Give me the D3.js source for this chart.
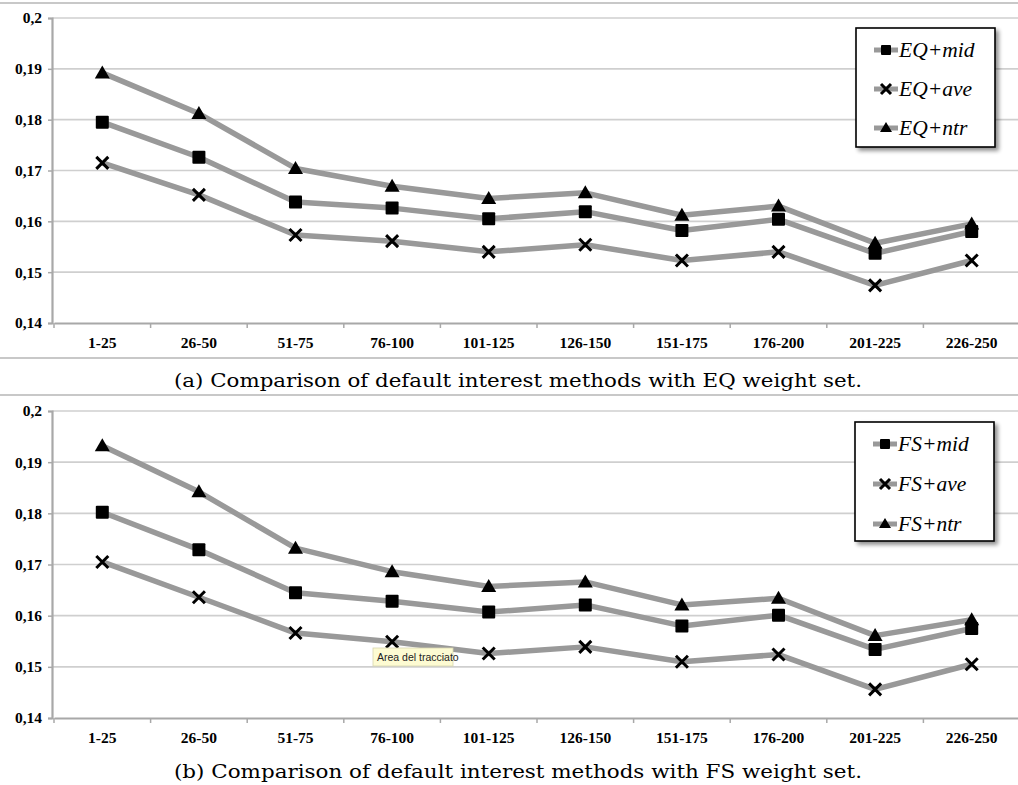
<!DOCTYPE html>
<html><head><meta charset="utf-8">
<script src="https://cdn.jsdelivr.net/npm/d3@7"></script>
<style>
body{margin:0;background:#fff}svg{display:block}
.tk{font-family:"Liberation Serif","Times New Roman",serif;font-weight:bold;font-size:15.5px;fill:#000}
.lg{font-family:"Liberation Serif","Times New Roman",serif;font-style:italic;font-size:21.5px;fill:#000}
.cap{font-family:"DejaVu Serif",serif;font-size:18.5px;fill:#000}
.tip{font-family:"Liberation Sans",Arial,sans-serif;font-size:10.5px;fill:#222}
</style>
</head><body>
<svg id="c" width="1018" height="785"></svg>
<script>
const categories = ["1-25","26-50","51-75","76-100","101-125","126-150","151-175","176-200","201-225","226-250"];
const yTicks = [0.14,0.15,0.16,0.17,0.18,0.19,0.2];
const yTickLabels = ["0,14","0,15","0,16","0,17","0,18","0,19","0,2"];

const eqMid = [0.1795,0.1726,0.1638,0.1626,0.1605,0.1619,0.1582,0.1604,0.1537,0.1580];
const eqAve = [0.1715,0.1652,0.1573,0.1561,0.1540,0.1554,0.1523,0.1540,0.1474,0.1523];
const eqNtr = [0.1892,0.1812,0.1704,0.1669,0.1645,0.1656,0.1612,0.1630,0.1557,0.1595];

const fsMid = [0.1802,0.1729,0.1645,0.1628,0.1607,0.1621,0.1580,0.1601,0.1534,0.1575];
const fsAve = [0.1705,0.1636,0.1566,0.1549,0.1526,0.1539,0.1510,0.1524,0.1456,0.1505];
const fsNtr = [0.1932,0.1842,0.1732,0.1686,0.1657,0.1666,0.1621,0.1634,0.1561,0.1592];

const legendEQ = ["EQ+mid","EQ+ave","EQ+ntr"];
const legendFS = ["FS+mid","FS+ave","FS+ntr"];
const captionA = "(a) Comparison of default interest methods with EQ weight set.";
const captionB = "(b) Comparison of default interest methods with FS weight set.";
const tooltipText = "Area del tracciato";

const svg = d3.select("#c");
const defs = svg.append("defs");
const f = defs.append("filter").attr("id","sh").attr("x","-20%").attr("y","-20%").attr("width","150%").attr("height","150%");
f.append("feGaussianBlur").attr("in","SourceAlpha").attr("stdDeviation",2);
f.append("feOffset").attr("dx",3).attr("dy",3).attr("result","o");
f.append("feComponentTransfer").append("feFuncA").attr("type","linear").attr("slope",0.45);
const m = f.append("feMerge"); m.append("feMergeNode"); m.append("feMergeNode").attr("in","SourceGraphic");

function panel(cfg){
  const g = svg.append("g");
  const x = d3.scaleBand().domain(categories).range([54,1020]).paddingInner(0).paddingOuter(0);
  const y = d3.scaleLinear().domain([0.14,0.2]).range([cfg.y0, cfg.y1]);

  g.append("line").attr("x1",0).attr("x2",1018).attr("y1",cfg.topLine).attr("y2",cfg.topLine).attr("stroke","#c8c8c8").attr("stroke-width",2);
  if(cfg.botLine>0) g.append("line").attr("x1",0).attr("x2",1018).attr("y1",cfg.botLine).attr("y2",cfg.botLine).attr("stroke","#c8c8c8").attr("stroke-width",2);

  g.append("g").selectAll("line").data(yTicks.filter(t=>t>0.14)).join("line")
    .attr("x1",52).attr("x2",1018).attr("y1",d=>y(d)).attr("y2",d=>y(d))
    .attr("stroke","#cfcfcf").attr("stroke-width",1.6);

  const ya = g.append("g").attr("transform","translate(52,0)")
    .call(d3.axisLeft(y).tickValues(yTicks).tickSize(4).tickFormat((d,i)=>yTickLabels[i]));
  ya.attr("font-family",null).attr("font-size",null);
  ya.select(".domain").attr("stroke","#a8a8a8").attr("stroke-width",2.2);
  ya.selectAll(".tick line").attr("stroke","#a8a8a8").attr("stroke-width",1.5);
  ya.selectAll("text").attr("class","tk").attr("fill",null).attr("x",-10);

  const xa = g.append("g").attr("transform",`translate(0,${cfg.y0})`)
    .call(d3.axisBottom(x).tickSize(0));
  xa.attr("font-family",null).attr("font-size",null);
  xa.select(".domain").attr("stroke","#a8a8a8").attr("stroke-width",2.2);
  xa.selectAll("text").attr("class","tk").attr("fill",null).attr("dy","0").attr("y",cfg.labelDy+11);
  const bounds = categories.map(c=>x(c)).concat([1020]);
  g.append("g").selectAll("line").data(bounds).join("line")
    .attr("x1",d=>d).attr("x2",d=>d).attr("y1",cfg.y0).attr("y2",cfg.y0+5)
    .attr("stroke","#a8a8a8").attr("stroke-width",1.5);

  const cx = c => x(c) + x.bandwidth()/2;
  const line = d3.line().x((d,i)=>cx(categories[i])).y(d=>y(d));
  const series = [
    {vals:cfg.mid, sym:"sq"},
    {vals:cfg.ave, sym:"x"},
    {vals:cfg.ntr, sym:"tri"}
  ];
  series.forEach(s=>{
    g.append("path").datum(s.vals).attr("d",line).attr("fill","none").attr("stroke","#999").attr("stroke-width",5.5).attr("stroke-linejoin","round");
  });
  function marker(sel, sym, size){
    if(sym==="sq"){
      sel.append("rect").attr("x",-size/2).attr("y",-size/2).attr("width",size).attr("height",size).attr("fill","#000").attr("rx",1);
    } else if(sym==="x"){
      const h=size/2;
      sel.append("path").attr("d",`M${-h},${-h}L${h},${h}M${-h},${h}L${h},${-h}`).attr("stroke","#000").attr("stroke-width",3);
    } else {
      const h=size/2;
      sel.append("path").attr("d",`M0,${-h-1}L${h+1},${h-1}L${-h-1},${h-1}Z`).attr("fill","#000");
    }
  }
  series.forEach(s=>{
    s.vals.forEach((v,i)=>{
      const mg = g.append("g").attr("transform",`translate(${cx(categories[i])},${y(v)})`);
      marker(mg, s.sym, s.sym==="x"?12:13);
    });
  });

  const lg = g.append("g");
  lg.append("rect").attr("x",cfg.lx).attr("y",cfg.ly).attr("width",139).attr("height",cfg.lh)
    .attr("fill","#fff").attr("stroke","#000").attr("stroke-width",1.6).attr("filter","url(#sh)");
  cfg.legend.forEach((t,i)=>{
    const yy = cfg.ly + cfg.lstart + i*cfg.lstep;
    lg.append("line").attr("x1",cfg.lx+18).attr("x2",cfg.lx+42).attr("y1",yy).attr("y2",yy).attr("stroke","#999").attr("stroke-width",5);
    const mg = lg.append("g").attr("transform",`translate(${cfg.lx+30},${yy})`);
    marker(mg, series[i].sym, 10);
    lg.append("text").attr("class","lg").attr("x",cfg.lx+43).attr("y",yy+7).text(t);
  });

  g.append("text").attr("class","cap").attr("x",518).attr("y",cfg.capY).attr("text-anchor","middle").text(cfg.caption)
    .attr("textLength",688).attr("lengthAdjust","spacingAndGlyphs");
  return {x,y,g,cx};
}

panel({y0:323,y1:18,topLine:3,botLine:358,labelDy:14,mid:eqMid,ave:eqAve,ntr:eqNtr,
  legend:legendEQ,lx:856,ly:28,lh:119,lstart:22,lstep:39,caption:captionA,capY:387});
panel({y0:718,y1:411,topLine:395,botLine:-10,labelDy:14,mid:fsMid,ave:fsAve,ntr:fsNtr,
  legend:legendFS,lx:855,ly:422,lh:119,lstart:22,lstep:40,caption:captionB,capY:778});

const tg = svg.append("g").attr("transform","translate(373,648)");
tg.append("rect").attr("width",80).attr("height",18).attr("fill","#fdfbd2").attr("stroke","#d8d6b0").attr("stroke-width",0.8);
tg.append("text").attr("class","tip").attr("x",4).attr("y",13).text(tooltipText);
</script>
</body></html>
